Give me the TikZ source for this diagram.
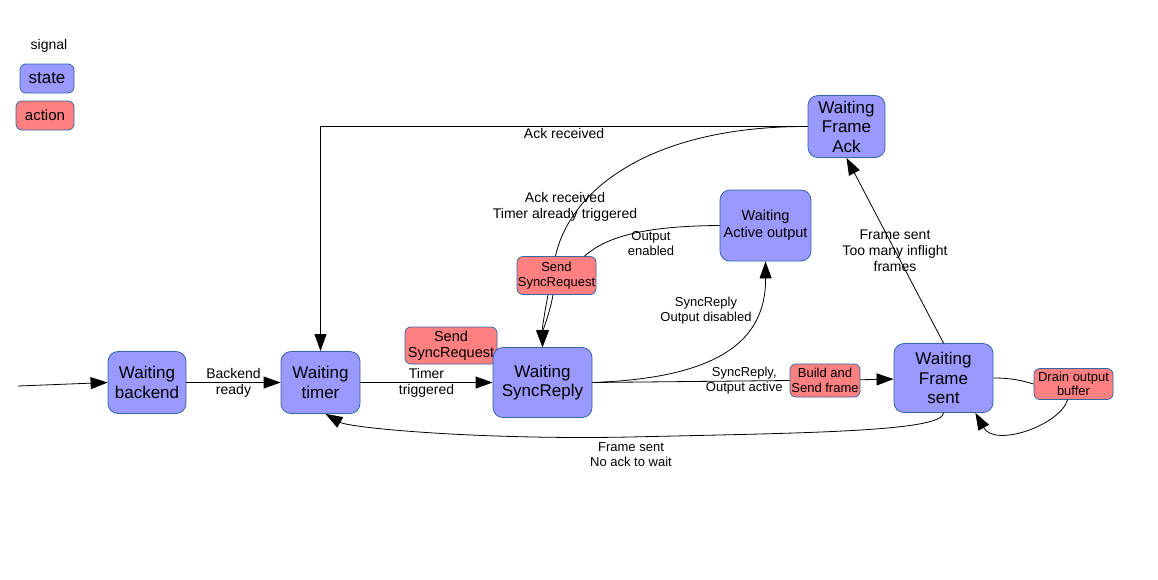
\documentclass[tikz,border=0pt]{standalone}
\usepackage{fontspec}
\setmainfont{Liberation Sans}
\usetikzlibrary{arrows.meta}
\definecolor{stfill}{HTML}{9999FF}
\definecolor{acfill}{HTML}{FF8080}
\definecolor{bord}{HTML}{3465A4}
\begin{document}
\begin{tikzpicture}[x=1pt,y=-1pt,
 state/.style={draw=bord, fill=stfill, rounded corners=10pt, inner sep=0pt, align=center, font=\fontsize{17}{19.5}\selectfont, line width=0.8pt},
 action/.style={draw=bord, fill=acfill, rounded corners=6pt, inner sep=0pt, align=center, font=\fontsize{13}{15}\selectfont, line width=0.8pt},
 lbl/.style={inner sep=0pt, align=center, font=\fontsize{14}{16}\selectfont},
 slbl/.style={inner sep=0pt, align=center, font=\fontsize{13}{15}\selectfont},
 arr/.style={-{Triangle[length=17pt,width=12pt]}, line width=0.8pt},
 ln/.style={line width=0.8pt}]
\useasboundingbox (0,0) rectangle (1158,579);
% legend
\node[lbl] (lsig) at (49,46) {signal};
\node[state, rounded corners=6pt, minimum width=54pt, minimum height=29pt] (lstate) at (47,78.5) {state};
\node[action, font=\fontsize{15}{17}\selectfont, minimum width=58pt, minimum height=29pt] (lact) at (45,115.5) {action};
% states
\node[state, minimum width=78pt, minimum height=62pt] (wb) at (147,382.5) {Waiting\\backend};
\node[state, minimum width=79pt, minimum height=62pt] (wt) at (320.5,382.5) {Waiting\\timer};
\node[action, font=\fontsize{14.5}{16}\selectfont, minimum width=92pt, minimum height=37pt] (sa1) at (451,345.5) {Send\\SyncRequest};
\node[state, minimum width=99pt, minimum height=70pt] (ws) at (542.5,382.5) {Waiting\\SyncReply};
\node[action, minimum width=79pt, minimum height=38pt] (ss2) at (556.5,275.5) {Send\\SyncRequest};
\node[state, font=\fontsize{14.5}{17}\selectfont, minimum width=91pt, minimum height=71pt] (wao) at (765.5,225.5) {Waiting\\Active output};
\node[state, minimum width=77pt, minimum height=62pt] (wfa) at (846.5,126.5) {Waiting\\Frame\\Ack};
\node[action, minimum width=70pt, minimum height=33pt] (bsf) at (825,380.5) {Build and\\Send frame};
\node[state, minimum width=99pt, minimum height=69pt] (wfs) at (943.5,378) {Waiting\\Frame\\sent};
\node[action, font=\fontsize{13}{14}\selectfont, minimum width=79pt, minimum height=31pt] (dob) at (1073.5,384) {Drain output\\buffer};
% edges
\coordinate (start) at (18,386);
\draw[arr] (start) -- (wb.west);
\draw[arr] (wb) -- node[lbl]{Backend\\ready} (wt);
\draw[arr] (wt) -- node[lbl]{Timer\\triggered} (ws);
\draw[ln] (ws.east) -- node[slbl,pos=0.77]{SyncReply,\\Output active} (bsf.west);
\draw[arr] (bsf) -- (wfs);
\draw[arr] (ws.east) .. controls (720,378) and (766,340) .. (wao.south);
\node[slbl] (l3) at (706,311) {SyncReply\\Output disabled};
\draw[ln] (wao.west) .. controls (640,226) and (605,238) .. ([xshift=28]ss2.north);
\node[slbl] (l4) at (651,244) {Output\\enabled};
\draw[ln] (wfa.west) .. controls (650,126) and (570,190) .. ([xshift=-1]ss2.north);
\node[lbl] (l5) at (565,207) {Ack received\\Timer already triggered};
\draw[arr] ([xshift=-3.5]ss2.south) .. controls (550,312) and (543,330) .. (ws.north);
\draw[arr] ([xshift=-8.5]ss2.south) .. controls (545,310) and (542,330) .. (ws.north);
\draw[arr] (wfa.west) -| node[lbl,pos=0.25,below=1.5pt]{Ack received} (wt.north);
\draw[arr] (wfs.north) -- node[lbl]{Frame sent\\Too many inflight\\frames} (wfa.south);
\draw[ln] (wfs.east) .. controls (1010,378) and (1020,380) .. (dob.west);
\draw[arr] ([xshift=-6]dob.south) .. controls (1060,425) and (995,448) .. ([xshift=-18]wfs.south east);
\draw[arr] (wfs.south) .. controls (943,432) and (800,433) .. (630,437) .. controls (480,440) and (350,428) .. ([xshift=5]wt.south);
\node[slbl] (l6) at (631,455) {Frame sent\\No ack to wait};
\end{tikzpicture}
\end{document}
